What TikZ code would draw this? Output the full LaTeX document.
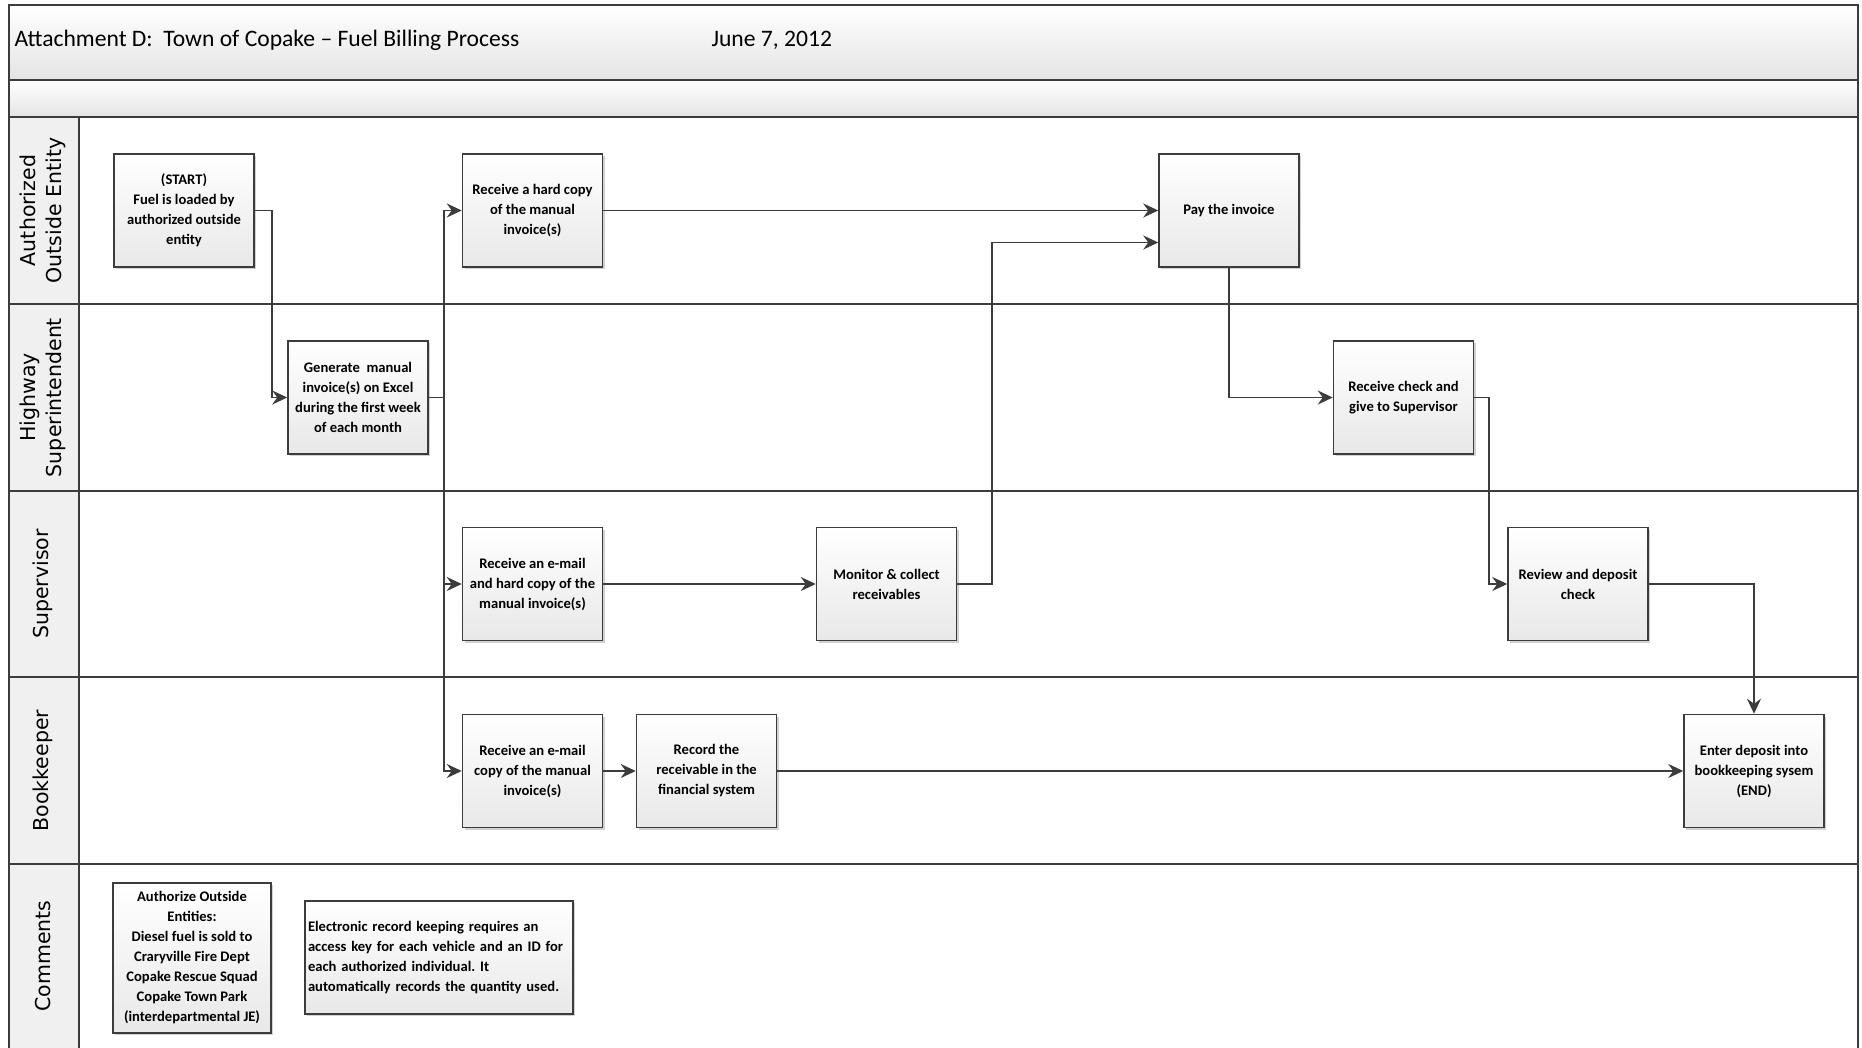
\documentclass[tikz,border=0pt]{standalone}
\usepackage{fontspec}
\setmainfont{Carlito}
\newfontfamily\lanefont{DejaVu Sans}
\usetikzlibrary{arrows.meta,shadows}
\frenchspacing
\definecolor{lineg}{HTML}{3C3C3C}
\definecolor{bandlo}{HTML}{E4E4E4}
\definecolor{boxlo}{HTML}{E8E8E8}
\tikzset{
  stepbox/.style={draw=lineg, line width=1.5pt, top color=white, bottom color=boxlo,
    minimum width=140pt, minimum height=113pt, inner sep=2pt, align=center,
    font=\bfseries\fontsize{14.6}{20}\selectfont,
    drop shadow={shadow xshift=2pt, shadow yshift=-2pt, fill=black, opacity=0.18}},
  flow/.style={draw=lineg, line width=1.6pt, -{Stealth[length=15pt,width=14pt,inset=5pt]}},
  plain/.style={draw=lineg, line width=1.6pt},
  lanelabel/.style={rotate=90, align=center, font=\lanefont\fontsize{20.5}{26}\selectfont, text=black},
  frame/.style={draw=lineg, line width=1.8pt}
}
\begin{document}
\begin{tikzpicture}[x=1pt,y=-1pt]
\useasboundingbox (0,0) rectangle (1862,1048);
\fill[white] (0,0) rectangle (1862,1048);
% bands
\shade[top color=white, bottom color=bandlo] (9,5) rectangle (1858,80);
\shade[top color=white, bottom color=bandlo] (9,80) rectangle (1858,117);
\fill[black!6] (9,117) rectangle (79,1048);
% frame lines
\draw[frame] (9,1048) -- (9,5) -- (1858,5) -- (1858,1048);
\draw[frame] (9,80) -- (1858,80);
\draw[frame] (9,117) -- (1858,117);
\draw[frame] (79,117) -- (79,1048);
\foreach \yy in {304,491,677,864} \draw[frame] (9,\yy) -- (1858,\yy);
% title
\node[anchor=west, font=\fontsize{23.6}{28}\selectfont] (title) at (11,40) {Attachment D:\ \ Town of Copake -- Fuel Billing Process};
\node[anchor=west, font=\fontsize{23.6}{28}\selectfont] (date) at (708,40) {June 7, 2012};
% lane labels
\node[lanelabel] (l1) at (43,210.5) {Authorized\\Outside Entity};
\node[lanelabel] (l2) at (43,397.5) {Highway\\Superintendent};
\node[lanelabel] (l3) at (43,584) {Supervisor};
\node[lanelabel] (l4) at (43,770.5) {Bookkeeper};
\node[lanelabel] (l5) at (43,956) {Comments};
% boxes
\node[stepbox] (start) at (184,210.5) {(START)\\Fuel is loaded by\\authorized outside\\entity};
\node[stepbox] (gen) at (358,397.5) {Generate\ \ manual\\invoice(s) on Excel\\during the first week\\of each month};
\node[stepbox] (hard) at (532.5,210.5) {Receive a hard copy\\of the manual\\invoice(s)};
\node[stepbox] (supmail) at (532.5,584) {Receive an e-mail\\and hard copy of the\\manual invoice(s)};
\node[stepbox] (bkmail) at (532.5,771) {Receive an e-mail\\copy of the manual\\invoice(s)};
\node[stepbox] (record) at (706.5,771) {Record the\\receivable in the\\financial system};
\node[stepbox] (monitor) at (886.5,584) {Monitor \& collect\\receivables};
\node[stepbox] (pay) at (1229,210.5) {Pay the invoice};
\node[stepbox] (check) at (1403.5,397.5) {Receive check and\\give to Supervisor};
\node[stepbox] (review) at (1578,584) {Review and deposit\\check};
\node[stepbox] (end) at (1754,771) {Enter deposit into\\bookkeeping sysem\\(END)};
\node[stepbox, minimum width=158pt, minimum height=150pt] (c1) at (192,958) {Authorize Outside\\Entities:\\Diesel fuel is sold to\\Craryville Fire Dept\\Copake Rescue Squad\\Copake Town Park\\(interdepartmental JE)};
\node[stepbox, minimum width=268pt, minimum height=113pt, inner xsep=3pt, text width=262pt, align=left] (c2) at (439,957.5) {Electronic record keeping requires an\\access key for each vehicle and an ID for\\each authorized individual. It\\automatically records the quantity used.};
% connectors
\draw[flow] (start.east) -- ++(17,0) |- (gen.west);
\draw[plain] (gen.east) -- ++(15,0) coordinate (bus);
\draw[flow] (bus) |- (hard.west);
\draw[flow] (bus) |- (supmail.west);
\draw[flow] (bus) |- (bkmail.west);
\draw[flow] (hard.east) -- (pay.west);
\draw[flow] (supmail.east) -- (monitor.west);
\draw[flow] (monitor.east) -- ++(35,0) |- ([yshift=-32pt]pay.west);
\draw[flow] (pay.south) |- (check.west);
\draw[flow] (check.east) -- ++(15,0) |- (review.west);
\draw[flow] (review.east) -| (end.north);
\draw[flow] (bkmail.east) -- (record.west);
\draw[flow] (record.east) -- (end.west);
\end{tikzpicture}
\end{document}
